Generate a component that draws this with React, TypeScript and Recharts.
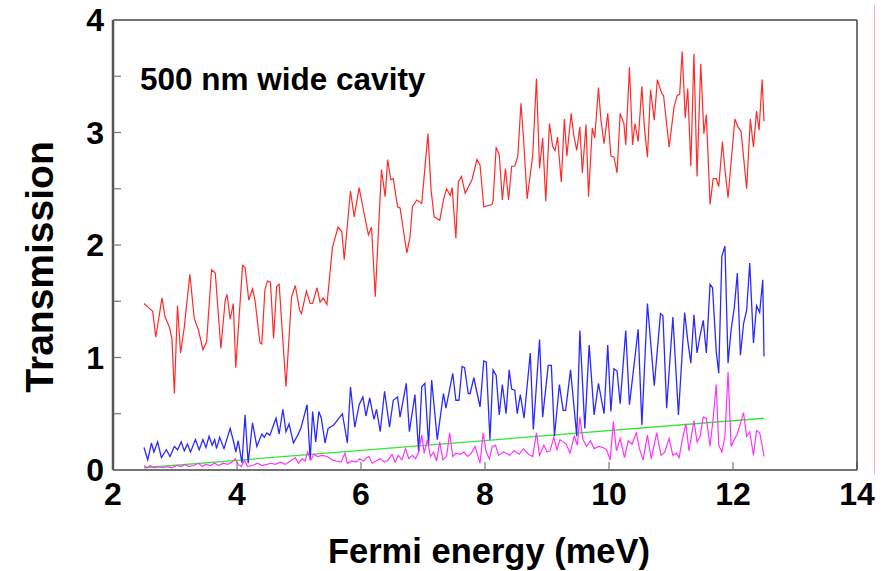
import React from 'react';
import { LineChart, Line, XAxis, YAxis } from 'recharts';

// Transmission vs Fermi energy, 500 nm wide cavity

const redX = [
  2.5, 2.56, 2.64, 2.69, 2.79, 2.84, 2.91, 2.95, 2.99, 3.04, 3.09, 3.15, 3.24, 3.31, 3.38, 3.45, 3.51, 3.59, 3.65, 3.74,
  3.81, 3.84, 3.89, 3.94, 3.98, 4.09, 4.13, 4.19, 4.25, 4.29, 4.37, 4.4, 4.45, 4.49, 4.54, 4.59, 4.64, 4.68, 4.79, 4.88,
  4.94, 5.01, 5.04, 5.12, 5.18, 5.22, 5.29, 5.34, 5.39, 5.45, 5.54, 5.63, 5.69, 5.73, 5.83, 5.89, 5.97, 6.05, 6.12, 6.17,
  6.23, 6.33, 6.39, 6.43, 6.48, 6.52, 6.59, 6.63, 6.74, 6.79, 6.83, 6.9, 6.98, 7.08, 7.13, 7.18, 7.27, 7.33, 7.38, 7.44,
  7.47, 7.53, 7.57, 7.62, 7.68, 7.79, 7.87, 7.92, 7.98, 8.11, 8.13, 8.18, 8.23, 8.28, 8.33, 8.38, 8.43, 8.48, 8.53, 8.58,
  8.62, 8.68, 8.77, 8.83, 8.88, 8.93, 8.98, 9.04, 9.09, 9.13, 9.17, 9.23, 9.28, 9.32, 9.39, 9.43, 9.48, 9.53, 9.57, 9.63,
  9.67, 9.73, 9.77, 9.83, 9.87, 9.92, 9.98, 10.03, 10.08, 10.13, 10.18, 10.24, 10.27, 10.33, 10.38, 10.42, 10.47, 10.53,
  10.57, 10.62, 10.67, 10.73, 10.78, 10.85, 10.88, 10.97, 11.05, 11.1, 11.14, 11.18, 11.23, 11.27, 11.32, 11.37, 11.42,
  11.48, 11.53, 11.57, 11.63, 11.68, 11.73, 11.77, 11.83, 11.87, 11.92, 12.03, 12.08, 12.13, 12.22, 12.28, 12.33, 12.38,
  12.42, 12.47, 12.5,
];
const redY = [
  1.48, 1.45, 1.41, 1.18, 1.53, 1.36, 1.27, 1.17, 0.68, 1.46, 1.04, 1.27, 1.74, 1.35, 1.24, 1.07, 1.14, 1.78, 1.75, 1.08,
  1.51, 1.56, 1.34, 1.48, 0.91, 1.82, 1.8, 1.51, 1.61, 1.51, 1.13, 1.12, 1.6, 1.68, 1.67, 1.17, 1.63, 1.65, 0.74, 1.54,
  1.64, 1.42, 1.39, 1.59, 1.48, 1.48, 1.62, 1.49, 1.53, 1.47, 1.98, 2.16, 2.12, 1.87, 2.48, 2.25, 2.51, 2.28, 2.09, 2.16,
  1.54, 2.67, 2.43, 2.76, 2.58, 2.59, 2.34, 2.33, 1.93, 2.07, 2.34, 2.4, 2.37, 2.99, 2.49, 2.25, 2.22, 2.4, 2.5, 2.44,
  2.51, 2.06, 2.56, 2.61, 2.46, 2.58, 2.76, 2.71, 2.34, 2.36, 2.39, 2.87, 2.8, 2.4, 2.68, 2.4, 2.7, 2.7, 2.79, 3.26,
  2.96, 2.41, 2.8, 3.48, 2.68, 2.95, 2.39, 3.08, 2.88, 2.84, 2.96, 2.56, 3.12, 2.79, 3.17, 2.98, 2.84, 3.05, 2.64, 3.07,
  2.43, 3.04, 2.95, 3.4, 3.11, 2.9, 3.17, 2.79, 2.78, 2.64, 3.17, 3.08, 2.89, 3.58, 2.89, 3.08, 2.92, 3.41,
  3.05, 2.78, 3.38, 3.11, 3.47, 3.35, 3.33, 2.87, 3.23, 3.33, 3.34, 3.72, 3.13, 3.39, 2.7, 3.7, 2.61,
  3.61, 2.99, 3.16, 2.36, 2.59, 2.59, 2.52, 2.92, 2.67, 2.42, 3.12, 3.05, 3.01, 2.5, 3.12, 2.87, 3.19,
  3.02, 3.47, 3.1,
];

const blueX = [
  2.5, 2.56, 2.62, 2.66, 2.72, 2.78, 2.86, 2.92, 2.99, 3.04, 3.1, 3.15, 3.2, 3.25, 3.33, 3.39, 3.45, 3.5, 3.55, 3.6,
  3.64, 3.67, 3.72, 3.79, 3.89, 3.95, 3.98, 4.02, 4.08, 4.13, 4.18, 4.25, 4.32, 4.4, 4.44, 4.48, 4.53, 4.63, 4.68, 4.74,
  4.79, 4.84, 4.91, 4.98, 5.03, 5.13, 5.18, 5.22, 5.27, 5.32, 5.36, 5.42, 5.47, 5.56, 5.63, 5.7, 5.78, 5.83, 5.9, 5.97,
  6.03, 6.08, 6.14, 6.21, 6.25, 6.31, 6.38, 6.46, 6.52, 6.59, 6.63, 6.73, 6.78, 6.87, 6.93, 6.98, 7.03, 7.09, 7.14, 7.23,
  7.33, 7.37, 7.48, 7.53, 7.58, 7.63, 7.67, 7.73, 7.76, 7.82, 7.92, 7.98, 8.02, 8.08, 8.13, 8.18, 8.23, 8.28, 8.34, 8.39,
  8.43, 8.48, 8.52, 8.57, 8.63, 8.73, 8.78, 8.88, 8.93, 9.02, 9.07, 9.12, 9.2, 9.26, 9.3, 9.38, 9.48, 9.53, 9.61, 9.68,
  9.76, 9.83, 9.92, 9.98, 10.03, 10.08, 10.13, 10.18, 10.27, 10.33, 10.47, 10.53, 10.62, 10.73, 10.83, 10.87, 10.93,
  11.03, 11.12, 11.22, 11.27, 11.32, 11.37, 11.42, 11.47, 11.52, 11.57, 11.63, 11.67, 11.73, 11.77, 11.82, 11.87, 11.92,
  11.97, 12.02, 12.07, 12.12, 12.17, 12.22, 12.27, 12.33, 12.38, 12.43, 12.48, 12.5,
];
const blueY = [
  0.2, 0.09, 0.24, 0.16, 0.25, 0.11, 0.18, 0.12, 0.21, 0.18, 0.25, 0.17, 0.23, 0.16, 0.27, 0.18, 0.27, 0.2, 0.3, 0.22,
  0.27, 0.19, 0.29, 0.19, 0.37, 0.24, 0.16, 0.26, 0.06, 0.49, 0.06, 0.42, 0.21, 0.32, 0.29, 0.33, 0.31, 0.46, 0.32, 0.54,
  0.34, 0.41, 0.24, 0.31, 0.37, 0.58, 0.09, 0.52, 0.25, 0.52, 0.46, 0.24, 0.37, 0.4, 0.45, 0.5, 0.24, 0.74, 0.38, 0.58,
  0.65, 0.48, 0.64, 0.45, 0.54, 0.34, 0.7, 0.38, 0.62, 0.65, 0.47, 0.77, 0.34, 0.67, 0.16, 0.74, 0.77, 0.22, 0.8, 0.27,
  0.68, 0.55, 0.86, 0.62, 0.62, 0.92, 0.91, 0.68, 0.68, 0.82, 0.56, 0.97, 0.96, 0.27, 0.89, 0.84, 0.49, 0.76, 0.5, 0.89,
  0.72, 0.71, 0.5, 0.67, 0.46, 1.04, 0.36, 1.16, 0.47, 0.93, 0.93, 0.3, 0.76, 0.53, 0.53, 0.89, 0.3, 1.24, 0.37, 1.11,
  0.49, 0.77, 0.5, 1.11, 0.52, 0.9, 0.88, 0.59, 1.24, 0.58, 1.25, 0.4, 1.48, 0.75, 1.39, 1.37, 0.55,
  1.36, 0.49, 1.4, 1.15, 0.95, 1.38, 1.04, 1.2, 1.33, 1.04, 1.65, 1.62, 1.05, 0.86, 1.9, 1.99, 0.95,
  1.25, 1.44, 1.75, 1.02, 1.3, 1.42, 1.84, 1.13, 1.46, 1.4, 1.69, 1.01,
];

const magentaX = [
  2.5, 2.55, 2.6, 2.66, 2.72, 2.8, 2.88, 2.95, 3.02, 3.1, 3.16, 3.22, 3.3, 3.38, 3.44, 3.5, 3.57, 3.64, 3.7, 3.78,
  3.85, 3.92, 3.97, 4.02, 4.07, 4.12, 4.17, 4.25, 4.33, 4.4, 4.48, 4.55, 4.62, 4.7, 4.78, 4.86, 4.94, 4.99, 5.05, 5.1,
  5.14, 5.19, 5.24, 5.3, 5.37, 5.46, 5.53, 5.6, 5.68, 5.74, 5.78, 5.85, 5.92, 5.98, 6.04, 6.09, 6.13, 6.18, 6.24, 6.31,
  6.38, 6.44, 6.5, 6.55, 6.6, 6.66, 6.72, 6.77, 6.83, 6.88, 6.93, 6.98, 7.02, 7.07, 7.12, 7.17, 7.22, 7.27, 7.32, 7.38,
  7.43, 7.48, 7.53, 7.6, 7.66, 7.72, 7.78, 7.84, 7.92, 7.97, 8.02, 8.07, 8.12, 8.17, 8.22, 8.3, 8.4, 8.47, 8.55, 8.62,
  8.7, 8.77, 8.83, 8.88, 8.95, 9.0, 9.05, 9.11, 9.16, 9.21, 9.26, 9.31, 9.37, 9.44, 9.49, 9.53, 9.58, 9.64, 9.7, 9.76,
  9.84, 9.9, 9.96, 10.02, 10.07, 10.12, 10.18, 10.25, 10.31, 10.37, 10.44, 10.49, 10.55, 10.62, 10.68, 10.77, 10.84,
  10.9, 10.97, 11.03, 11.09, 11.13, 11.18, 11.24, 11.29, 11.37, 11.42, 11.47, 11.52, 11.57, 11.63, 11.68, 11.73, 11.77,
  11.82, 11.87, 11.92, 11.97, 12.02, 12.07, 12.17, 12.22, 12.27, 12.33, 12.38, 12.43, 12.47, 12.5,
];
const magentaY = [
  0.04, 0.02, 0.04, 0.02, 0.03, 0.02, 0.03, 0.02, 0.04, 0.03, 0.05, 0.03, 0.04, 0.06, 0.03, 0.05, 0.04, 0.06, 0.04, 0.06,
  0.05, 0.07, 0.1, 0.05, 0.03, 0.09, 0.03, 0.04, 0.06, 0.04, 0.05, 0.06, 0.05, 0.07, 0.05, 0.08, 0.11, 0.06, 0.1, 0.08,
  0.16, 0.09, 0.14, 0.12, 0.13, 0.12, 0.09, 0.08, 0.07, 0.15, 0.06, 0.08, 0.07, 0.1, 0.08, 0.11, 0.12, 0.06, 0.08, 0.1,
  0.07, 0.09, 0.14, 0.07, 0.13, 0.09, 0.19, 0.1, 0.13, 0.1, 0.16, 0.31, 0.15, 0.27, 0.12, 0.16, 0.08, 0.25, 0.09, 0.12,
  0.33, 0.12, 0.15, 0.14, 0.16, 0.12, 0.15, 0.21, 0.06, 0.33, 0.16, 0.1, 0.21, 0.22, 0.13, 0.16, 0.13, 0.17, 0.14, 0.19,
  0.14, 0.12, 0.33, 0.13, 0.22, 0.16, 0.17, 0.29, 0.18, 0.27, 0.25, 0.23, 0.15, 0.3, 0.22, 0.47, 0.27, 0.21, 0.26, 0.19,
  0.21, 0.2, 0.18, 0.09, 0.43, 0.17, 0.28, 0.11, 0.26, 0.23, 0.33, 0.19, 0.09, 0.31, 0.1, 0.33, 0.13,
  0.16, 0.28, 0.13, 0.15, 0.11, 0.26, 0.41, 0.17, 0.44, 0.25, 0.3, 0.47, 0.46, 0.21, 0.46, 0.76, 0.22,
  0.16, 0.3, 0.87, 0.21, 0.27, 0.32, 0.51, 0.3, 0.34, 0.13, 0.35, 0.33, 0.22, 0.12,
];

const greenX = [2.5, 12.5];
const greenY = [0.02, 0.46];

const xTicks = [2, 4, 6, 8, 10, 12, 14];
const yTicks = [0, 0.5, 1, 1.5, 2, 2.5, 3, 3.5, 4];

const toPoints = (xs: number[], ys: number[]) => xs.map((x, i) => ({ x, y: ys[i] }));

const red = toPoints(redX, redY);
const blue = toPoints(blueX, blueY);
const magenta = toPoints(magentaX, magentaY);
const green = toPoints(greenX, greenY);

const FONT = '"Liberation Sans", Arial, Helvetica, sans-serif';
const tickFont = { fontSize: 32, fontWeight: 'bold', fill: '#000', fontFamily: FONT };
const frame = { stroke: '#444', strokeWidth: 1.5 };
const tickLn = { stroke: '#777', strokeWidth: 1.2 };

export default function App() {
  return (
    <div
      style={{
        position: 'absolute',
        left: 0,
        top: 0,
        width: 886,
        height: 571,
        background: '#fff',
        fontFamily: FONT,
      }}
    >
      <LineChart width={886} height={571} margin={{ top: 19, right: 28, bottom: 61, left: 53 }}>
        <XAxis
          dataKey="x"
          type="number"
          domain={[2, 14]}
          ticks={xTicks}
          interval={0}
          height={40}
          tick={tickFont}
          tickSize={-8}
          tickMargin={20}
          axisLine={frame}
          tickLine={tickLn}
          allowDataOverflow
        />
        {/* top and right axes only draw the box and the inward ticks */}
        <XAxis
          xAxisId="top"
          orientation="top"
          dataKey="x"
          type="number"
          domain={[2, 14]}
          ticks={xTicks}
          interval={0}
          height={1}
          tick={false}
          tickSize={-8}
          axisLine={frame}
          tickLine={tickLn}
          allowDataOverflow
        />
        <YAxis
          type="number"
          domain={[0, 4]}
          ticks={yTicks}
          interval={0}
          width={60}
          tick={tickFont}
          tickFormatter={(v: number) => (Number.isInteger(v) ? String(v) : '')}
          tickSize={-8}
          tickMargin={17}
          axisLine={{ stroke: '#555', strokeWidth: 2.5 }}
          tickLine={tickLn}
          allowDataOverflow
        />
        <YAxis
          yAxisId="right"
          orientation="right"
          type="number"
          domain={[0, 4]}
          ticks={yTicks}
          interval={0}
          width={1}
          tick={false}
          tickSize={-8}
          axisLine={frame}
          tickLine={tickLn}
          allowDataOverflow
        />
        <Line
          data={green}
          dataKey="y"
          xAxisId="top"
          yAxisId="right"
          dot={false}
          stroke="none"
          legendType="none"
          isAnimationActive={false}
        />
        <Line data={green} dataKey="y" type="linear" dot={false} stroke="#33e633" strokeWidth={1.3} isAnimationActive={false} />
        <Line data={red} dataKey="y" type="linear" dot={false} stroke="#ff2a2a" strokeWidth={1.2} isAnimationActive={false} />
        <Line data={blue} dataKey="y" type="linear" dot={false} stroke="#2a2aff" strokeWidth={1.3} isAnimationActive={false} />
        <Line data={magenta} dataKey="y" type="linear" dot={false} stroke="#ff33ff" strokeWidth={1.2} isAnimationActive={false} />
      </LineChart>
      <svg
        width={886}
        height={571}
        style={{ position: 'absolute', left: 0, top: 0, pointerEvents: 'none' }}
      >
        <line x1={874.5} y1={5} x2={874.5} y2={474} stroke="#ffb0b0" strokeWidth={1} />
        <text x={140} y={90} fontSize={31.5} fontWeight="bold" fontFamily={FONT} fill="#000">
          500 nm wide cavity
        </text>
        <text x={489} y={563} fontSize={34.5} fontWeight="bold" fontFamily={FONT} fill="#000" textAnchor="middle">
          Fermi energy (meV)
        </text>
        <text
          transform="translate(53,267) rotate(-90)"
          fontSize={39}
          fontWeight="bold"
          fontFamily={FONT}
          fill="#000"
          textAnchor="middle"
        >
          Transmission
        </text>
      </svg>
    </div>
  );
}
